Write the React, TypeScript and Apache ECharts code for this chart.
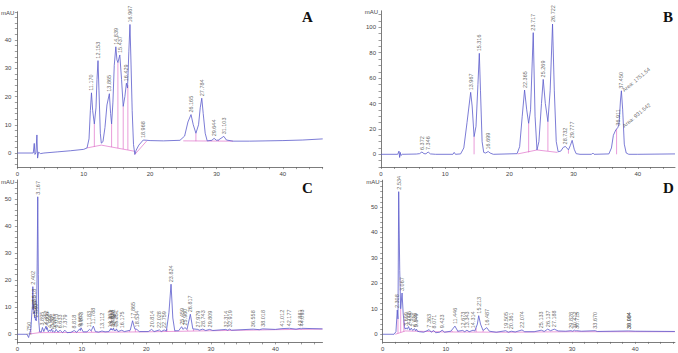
import { useEffect, useRef } from "react";
import * as echarts from "echarts";

type Pt = [number, number];
type Drop = [number, number, number]; // retention time, baseline, curve height

// ---------- Chromatogram A ----------
// Labelled peaks: [retention time (min), height (mAU)]
const peaksA: Pt[] = [
  [11.17, 21.3], [12.153, 32.7], [13.865, 21.0], [14.839, 37.6], [15.437, 34.7],
  [16.429, 24.7], [16.967, 45.5], [18.968, 4.6], [26.165, 13.6], [27.784, 19.4],
  [29.644, 5.2], [31.103, 5.9],
];
// Unlabelled points of the trace (baseline, flanks, valleys)
const shapeA: Pt[] = [
  [0, 0], [2.4, 0], [2.55, 3.4], [2.65, -0.5], [2.8, 0], [2.95, 6.4], [3.05, -1.8], [3.2, 0.3],
  [3.5, -0.2], [4, 0], [6, 0.4], [8, 0.8], [10, 1.3], [10.5, 1.8], [10.8, 5], [11.0, 15],
  [11.35, 15], [11.6, 10.3], [11.85, 16], [12.0, 26], [12.3, 22], [12.5, 7], [12.65, 3.5],
  [12.9, 4], [13.2, 9], [13.5, 17], [14.05, 14], [14.2, 10.3], [14.4, 18], [14.6, 31],
  [15.0, 33], [15.15, 32], [15.7, 26], [15.95, 16.5], [16.2, 20], [16.6, 23], [16.8, 36],
  [17.1, 34], [17.3, 15], [17.5, 3], [17.7, -0.5], [17.9, 1.0], [18.3, 2.8], [19.5, 4.5],
  [20, 4.4], [22, 4.3], [24.5, 4.5], [25.2, 6], [25.7, 11], [26.5, 10], [26.9, 7], [27.3, 10],
  [27.55, 16], [28.0, 14], [28.3, 7], [28.6, 4.3], [29.3, 4.5], [30.0, 4.5], [30.3, 4.6],
  [31.5, 4.6], [32.5, 4.2], [35, 4.2], [40, 4.4], [43, 4.6], [46, 5.0],
];
const dropsA: Drop[] = [
  [11.6, 2.2, 10.3], [14.2, 2.1, 10.3], [15.15, 1.7, 32], [15.95, 1.4, 16.5], [16.65, 1.1, 24],
  [26.9, 4.2, 7], [29.2, 4.2, 4.5], [30.3, 4.2, 4.6],
];
const baseA: Pt[][] = [
  [[10.5, 1.8], [12.65, 2.8], [17.7, 0.6]],
  [[17.7, -0.5], [19.5, 4.3]],
  [[25, 4.3], [32.5, 4.2]],
];

// ---------- Chromatogram B ----------
const peaksB: Pt[] = [
  [6.372, 1.8], [7.346, 1.8], [13.967, 48.8], [15.316, 79.5], [16.699, 2.2], [22.365, 50.6],
  [23.717, 95.8], [25.269, 59], [26.722, 102.6], [28.732, 6.2], [29.777, 11], [36.911, 21],
  [37.45, 50],
];
const shapeB: Pt[] = [
  [0, 0], [2.6, 0], [2.8, 2.5], [2.9, -2.5], [3.0, 1.5], [3.1, -1], [3.3, 0], [5.5, 0.2],
  [6.0, 0.5], [6.7, 0.5], [7.0, 0.4], [7.7, 0.3], [8.5, 0], [11.2, 0], [11.4, 1.5], [11.6, 0],
  [12.4, 0.3], [12.9, 5], [13.4, 25], [14.2, 38], [14.5, 13.9], [14.8, 22], [15.1, 55],
  [15.5, 50], [15.75, 10], [16.0, 1.5], [16.3, 1], [17.0, 1], [17.5, 0], [21.2, 0.5], [21.6, 6],
  [22.0, 30], [22.7, 35], [23.0, 24.4], [23.3, 35], [24.0, 30], [24.3, 3.4], [24.6, 10],
  [25.0, 40], [25.6, 40], [26.0, 25.7], [26.35, 50], [27.0, 50], [27.3, 10], [27.6, 2],
  [28.0, 2.5], [28.4, 5.5], [29.2, 3.5], [29.5, 7], [30.1, 4], [30.4, 0.5], [31, 0], [32.8, 0],
  [33.0, 1], [33.2, 0], [35.5, 0.3], [35.9, 5], [36.2, 15], [36.6, 19.5], [37.1, 25], [37.3, 42],
  [37.65, 35], [37.9, 8], [38.2, 1], [38.6, 0], [40, 0], [45.8, 0.3],
];
const dropsB: Drop[] = [
  [14.5, 0, 13.9], [23.0, 1.5, 24.4], [26.0, 2.6, 25.7], [29.2, 0.5, 3.5], [36.7, 0, 20],
];
const baseB: Pt[][] = [
  [[21.3, 0.3], [24.3, 3.4], [27.5, 1.5]],
];
// Area annotations next to the last two peaks
const notesB: { value: Pt; name: string }[] = [
  { value: [37.45, 50], name: "Area: 1751.54" },
  { value: [37.5, 22], name: "Area: 931.542" },
];

// ---------- Chromatogram C ----------
const peaksC: Pt[] = [
  [1.75, -1.2], [2.402, 17.6], [2.518, 11], [2.65, 8.5], [2.76, 6.5], [2.86, 5.5], [3.167, 50.8],
  [3.895, 2.5], [4.452, 3.0], [4.606, 2.5], [4.998, 1.6], [5.321, 2.0], [5.62, 1.2], [6.013, 1.8],
  [6.633, 1.5], [7.379, 1.5], [8.818, 1.4], [9.663, 2.0], [9.873, 2.4], [11.183, 1.8],
  [11.788, 3.0], [13.112, 1.2], [14.363, 1.8], [14.512, 2.2], [14.633, 2.0], [14.901, 2.3],
  [15.141, 1.6], [15.351, 2.0], [16.175, 1.5], [17.865, 5.0], [18.534, 1.8], [20.814, 1.8],
  [22.028, 1.6], [22.759, 1.6], [23.824, 18.5], [25.459, 2.8], [25.96, 2.5], [26.817, 7.4],
  [27.979, 1.8], [28.743, 1.9], [29.809, 1.8], [32.314, 1.8], [32.919, 1.9], [36.558, 1.9],
  [38.018, 2.0], [41.012, 2.1], [42.177, 2.2], [43.881, 2.2], [44.093, 2.2],
];
const shapeC: Pt[] = [
  [0, 0], [1.5, 0], [1.9, 0.2], [2.1, 2], [2.25, 8], [2.33, 10], [2.46, 9], [2.58, 7.5],
  [2.7, 6], [2.81, 5.2], [2.95, 5], [3.05, 20], [3.25, 22], [3.32, 5], [3.45, 1], [3.7, 0.8],
  [4.1, 1], [4.53, 1.8], [4.8, 0.9], [5.15, 1.1], [5.45, 0.9], [5.8, 0.8], [6.3, 0.8], [7.0, 0.6],
  [7.7, 0.6], [8.3, 0.7], [9.2, 0.7], [9.77, 1.4], [10.2, 0.9], [10.8, 0.9], [11.45, 1.3],
  [12.1, 1], [12.6, 0.8], [13.6, 0.9], [14.2, 1.0], [14.45, 1.6], [14.57, 1.7], [14.77, 1.5],
  [15.03, 1.3], [15.25, 1.3], [15.6, 1], [16.6, 1], [17.5, 1.5], [18.2, 2], [18.9, 1],
  [20.3, 1], [21.2, 1], [22.3, 1], [23.1, 1.2], [23.5, 8], [24.1, 6], [24.4, 1.3], [25.0, 1.3],
  [25.7, 1.8], [26.3, 1.8], [27.2, 2], [28.2, 1.5], [29.2, 1.4], [30.3, 1.4], [32.6, 1.5],
  [33.2, 1.5], [37.5, 1.7], [40, 1.8], [43.2, 1.9], [43.98, 1.9], [47.3, 2.0],
];
const dropsC: Drop[] = [
  [2.1, 0.1, 2], [3.4, 0.6, 1.2], [11.5, 0.8, 1.3], [17.4, 0.9, 1.4], [18.3, 0.9, 1.9],
  [23.2, 1.0, 2], [24.4, 1.0, 1.3], [26.4, 1.2, 1.8], [27.3, 1.2, 1.9],
];
const baseC: Pt[][] = [
  [[1.9, 0.1], [3.4, 0.6], [10, 0.7], [20, 0.9], [30, 1.3], [40, 1.7], [47.3, 1.9]],
];

// ---------- Chromatogram D ----------
const peaksD: Pt[] = [
  [2.308, 9.5], [2.534, 56], [3.067, 16.2], [3.699, 2.5], [4.095, 3.0], [4.528, 2.4],
  [5.039, 2.2], [5.349, 2.0], [7.363, 1.8], [8.071, 1.5], [9.423, 1.6], [11.446, 3.2],
  [12.673, 1.5], [13.343, 1.6], [14.314, 1.6], [15.213, 7.3], [16.487, 2.6], [19.505, 1.4],
  [20.361, 1.2], [22.074, 1.7], [25.133, 1.6], [26.137, 2.0], [27.188, 2.0], [29.828, 1.4],
  [30.412, 1.6], [30.715, 1.4], [33.67, 1.4], [38.994, 1.3], [39.084, 1.3],
];
const shapeD: Pt[] = [
  [0, 0], [1.8, 0], [2.1, 1], [2.42, 6], [2.7, 25], [2.85, 10], [3.25, 8], [3.45, 3], [3.55, 2],
  [3.9, 2], [4.3, 1.6], [4.75, 1.5], [5.2, 1.4], [5.5, 1.2], [5.8, 1], [6.5, 0.8], [7.7, 0.8],
  [8.4, 0.6], [9.0, 0.8], [9.8, 0.8], [10.8, 1.2], [11.9, 1.2], [13.0, 1], [13.7, 1], [14.6, 1.3],
  [15.0, 4], [15.5, 4], [15.9, 1.5], [16.9, 1.2], [18, 0.8], [19.9, 0.8], [21, 0.9], [22.5, 1],
  [24, 1], [25.6, 1.1], [26.6, 1.4], [27.8, 1.3], [29, 1.2], [30.1, 1.2], [30.6, 1.3],
  [31.5, 1.2], [34, 1.1], [39.04, 1.25], [40, 1.2], [46.3, 1.1],
];
const dropsD: Drop[] = [
  [2.42, 0.4, 6], [2.85, 0.8, 10], [3.35, 1.1, 5.5], [11.0, 0.9, 1.3], [11.9, 0.9, 1.2],
  [14.8, 0.9, 2.4], [15.9, 0.9, 1.5],
];
const baseD: Pt[][] = [
  [[2.0, 0], [3.6, 1.3], [10, 0.9], [20, 0.8], [30, 1.0], [46.3, 1.0]],
];

// Tick labels
const xLabels = [0, 10, 20, 30, 40];
const yLabelsA = [0, 10, 20, 30, 40];
const yLabelsB = [0, 20, 40, 60, 80, 100];
const yLabelsCD = [0, 10, 20, 30, 40, 50];

const BLUE = "#5a5acb";
const PINK = "#dc62c4";
const AXIS = "#5a5a5a";
const TEXT = "#454545";
const SANS = "Liberation Sans, Arial, sans-serif";

const steps = (from: number, to: number, step: number) => {
  const out: number[] = [];
  for (let v = from; v <= to + 1e-9; v += step) out.push(Math.round(v * 1000) / 1000);
  return out;
};
const merge = (peaks: Pt[], shape: Pt[]) => [...peaks, ...shape].sort((a, b) => a[0] - b[0]);

interface Panel {
  letter: string;
  peaks: Pt[];
  shape: Pt[];
  drops: Drop[];
  base: Pt[][];
  notes?: { value: Pt; name: string }[];
  xMax: number;
  yMin: number;
  yMax: number;
  yLabels: number[];
  yStep: number;
  grid: { left: number; top: number; width: number; height: number };
  letterPos: { left: number; top: number };
  yMargin: number;
}

const panels: Panel[] = [
  {
    letter: "A", peaks: peaksA, shape: shapeA, drops: dropsA, base: baseA,
    xMax: 46, yMin: -5, yMax: 50, yLabels: yLabelsA, yStep: 2,
    grid: { left: 15, top: 11.75, width: 307.7, height: 155.4 },
    letterPos: { left: 302, top: 9 }, yMargin: 6,
  },
  {
    letter: "B", peaks: peaksB, shape: shapeB, drops: dropsB, base: baseB, notes: notesB,
    xMax: 45.8, yMin: -10, yMax: 113, yLabels: yLabelsB, yStep: 5,
    grid: { left: 381, top: 10.8, width: 294, height: 156.2 },
    letterPos: { left: 663, top: 9 }, yMargin: 5,
  },
  {
    letter: "C", peaks: peaksC, shape: shapeC, drops: dropsC, base: baseC,
    xMax: 47.3, yMin: -3, yMax: 57, yLabels: yLabelsCD, yStep: 2,
    grid: { left: 15, top: 180, width: 307.5, height: 162.4 },
    letterPos: { left: 302, top: 180 }, yMargin: 6,
  },
  {
    letter: "D", peaks: peaksD, shape: shapeD, drops: dropsD, base: baseD,
    xMax: 46.3, yMin: -3, yMax: 60.5, yLabels: yLabelsCD, yStep: 2,
    grid: { left: 382.7, top: 180.2, width: 292.2, height: 161.7 },
    letterPos: { left: 663, top: 180 }, yMargin: 5,
  },
];

const buildOption = () => {
  const axisLine = { show: true, onZero: false, lineStyle: { color: AXIS, width: 0.8 } };
  const tickLine = { color: AXIS, width: 0.6 };
  const labelStyle = { fontSize: 6, color: TEXT, fontFamily: SANS };

  const series: any[] = [];
  panels.forEach((p, i) => {
    series.push({
      type: "lines",
      coordinateSystem: "cartesian2d",
      xAxisIndex: i,
      yAxisIndex: i,
      polyline: true,
      silent: true,
      z: 2,
      lineStyle: { color: PINK, width: 0.7, opacity: 0.9 },
      data: [
        ...p.base.map((c) => ({ coords: c })),
        ...p.drops.map(([t, b, h]) => ({ coords: [[t, b], [t, h]] })),
      ],
    });
    series.push({
      type: "line",
      xAxisIndex: i,
      yAxisIndex: i,
      data: merge(p.peaks, p.shape),
      showSymbol: false,
      symbol: "none",
      silent: true,
      z: 3,
      lineStyle: { color: BLUE, width: 0.8 },
    });
    series.push({
      type: "scatter",
      xAxisIndex: i,
      yAxisIndex: i,
      data: p.peaks,
      symbolSize: 1,
      silent: true,
      z: 4,
      itemStyle: { color: "rgba(0,0,0,0)" },
      label: {
        show: true,
        position: "top",
        distance: 1.5,
        rotate: 90,
        align: "left",
        verticalAlign: "middle",
        fontSize: 5.5,
        color: TEXT,
        fontFamily: SANS,
        formatter: (q: any) => q.value[0].toFixed(3),
      },
    });
    if (p.notes) {
      series.push({
        type: "scatter",
        xAxisIndex: i,
        yAxisIndex: i,
        data: p.notes,
        symbolSize: 1,
        silent: true,
        z: 4,
        itemStyle: { color: "rgba(0,0,0,0)" },
        label: {
          show: true,
          position: "right",
          distance: 1,
          rotate: 40,
          align: "left",
          verticalAlign: "middle",
          fontSize: 5.5,
          color: TEXT,
          fontFamily: SANS,
          formatter: "{b}",
        },
      });
    }
  });

  return {
    animation: false,
    backgroundColor: "#ffffff",
    title: panels.map((p) => ({
      text: p.letter,
      left: p.letterPos.left,
      top: p.letterPos.top,
      padding: 0,
      textStyle: { fontFamily: "Liberation Serif, Times New Roman, serif", fontWeight: "bold", fontSize: 15, color: "#111" },
    })),
    grid: panels.map((p) => ({ ...p.grid, containLabel: false })),
    xAxis: panels.map((p, i) => ({
      type: "value",
      gridIndex: i,
      min: 0,
      max: p.xMax,
      axisLine,
      axisTick: { show: true, customValues: steps(0, p.xMax, 2), length: 2, lineStyle: tickLine },
      axisLabel: { ...labelStyle, customValues: xLabels, margin: 4 },
      splitLine: { show: false },
    })),
    yAxis: panels.map((p, i) => ({
      type: "value",
      gridIndex: i,
      min: p.yMin,
      max: p.yMax,
      name: "mAU",
      nameLocation: "end",
      nameGap: -1.5,
      nameTextStyle: { ...labelStyle, align: "right", verticalAlign: "middle", padding: [0, 3, 0, 0] },
      axisLine,
      axisTick: {
        show: true,
        customValues: steps(Math.ceil(p.yMin / p.yStep) * p.yStep, p.yMax, p.yStep),
        length: 2.5,
        lineStyle: tickLine,
      },
      axisLabel: { ...labelStyle, customValues: p.yLabels, margin: p.yMargin },
      splitLine: { show: false },
    })),
    series,
  };
};

export default function App() {
  const ref = useRef<HTMLDivElement>(null);
  useEffect(() => {
    if (!ref.current) return;
    const chart = echarts.init(ref.current, null, { renderer: "svg" });
    chart.setOption(buildOption() as any);
    return () => chart.dispose();
  }, []);
  return (
    <div
      ref={ref}
      style={{ position: "fixed", left: 0, top: 0, width: 678, height: 353, background: "#fff" }}
    />
  );
}
